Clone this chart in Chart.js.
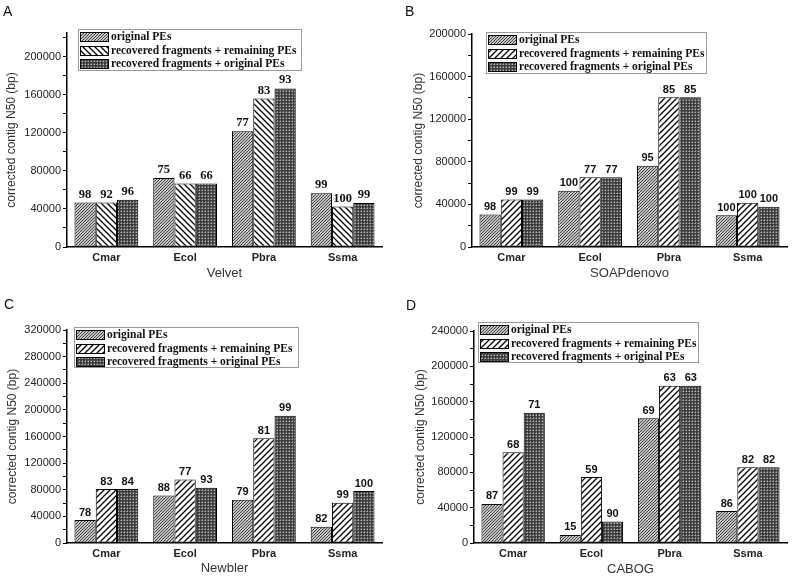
<!DOCTYPE html>
<html lang="en">
<head>
<meta charset="UTF-8">
<title>Corrected contig N50</title>
<script src="https://cdn.jsdelivr.net/npm/chart.js"></script>
<style>
  body { margin: 0; background: #fff; }
  #wrap { position: relative; width: 795px; height: 577px; }
  canvas { position: absolute; }
  .tag { position: absolute; font: 14px 'Liberation Sans', Arial, sans-serif; color: #111; }
</style>
</head>
<body>
<div id="wrap">
  <canvas id="chartA" width="397" height="288" style="left:0;top:0"></canvas>
  <canvas id="chartB" width="398" height="288" style="left:397px;top:0"></canvas>
  <canvas id="chartC" width="397" height="289" style="left:0;top:288px"></canvas>
  <canvas id="chartD" width="398" height="289" style="left:397px;top:288px"></canvas>
  <div class="tag" style="left:3px;top:3px">A</div>
  <div class="tag" style="left:405px;top:3px">B</div>
  <div class="tag" style="left:4px;top:296px">C</div>
  <div class="tag" style="left:406px;top:297px">D</div>
</div>
<script>
const categories = ['Cmar', 'Ecol', 'Pbra', 'Ssma'];
const seriesNames = ['original PEs', 'recovered fragments + remaining PEs', 'recovered fragments + original PEs'];

// A - Velvet
const velvetOriginal = [46700, 72600, 121800, 56500];
const velvetRemaining = [46700, 66700, 156100, 42500];
const velvetRecOrig = [49800, 66700, 166700, 46300];
const velvetPctOriginal = [98, 75, 77, 99];
const velvetPctRemaining = [92, 66, 83, 100];
const velvetPctRecOrig = [96, 66, 93, 99];

// B - SOAPdenovo
const soapOriginal = [30600, 52800, 76300, 29700];
const soapRemaining = [44700, 65600, 140600, 41600];
const soapRecOrig = [44700, 65600, 140600, 37800];
const soapPctOriginal = [98, 100, 95, 100];
const soapPctRemaining = [99, 77, 85, 100];
const soapPctRecOrig = [99, 77, 85, 100];

// C - Newbler
const newblerOriginal = [34500, 71500, 65000, 24500];
const newblerRemaining = [81000, 95500, 157500, 60500];
const newblerRecOrig = [81000, 83000, 191000, 78000];
const newblerPctOriginal = [78, 88, 79, 82];
const newblerPctRemaining = [83, 77, 81, 99];
const newblerPctRecOrig = [84, 93, 99, 100];

// D - CABOG
const cabogOriginal = [44200, 9100, 141100, 36200];
const cabogRemaining = [102600, 74700, 178100, 85700];
const cabogRecOrig = [147500, 24200, 178100, 85700];
const cabogPctOriginal = [87, 15, 69, 86];
const cabogPctRemaining = [68, 59, 63, 82];
const cabogPctRecOrig = [71, 90, 63, 82];

const sans = "'Liberation Sans', Arial, sans-serif";
const serif = "'Liberation Serif', 'Times New Roman', serif";

function makePattern(size, draw) {
    const c = document.createElement('canvas');
    c.width = size; c.height = size;
    const g = c.getContext('2d');
    draw(g, size);
    return g.createPattern(c, 'repeat');
}

function hatch(bg, fg, s, lw, forward) {
    return makePattern(s, (g) => {
        g.fillStyle = bg;
        g.fillRect(0, 0, s, s);
        g.strokeStyle = fg;
        g.lineWidth = lw;
        g.beginPath();
        if (forward) {
            g.moveTo(-1, s + 1); g.lineTo(s + 1, -1);
            g.moveTo(-1, 1); g.lineTo(1, -1);
            g.moveTo(s - 1, s + 1); g.lineTo(s + 1, s - 1);
        } else {
            g.moveTo(-1, -1); g.lineTo(s + 1, s + 1);
            g.moveTo(s - 1, -1); g.lineTo(s + 1, 1);
            g.moveTo(-1, s - 1); g.lineTo(1, s + 1);
        }
        g.stroke();
    });
}

const fillOriginal = hatch('#c4c4c4', '#444', 3, 1, true);
const fillRemainingBack = hatch('#fff', '#000', 6, 1.3, false);
const fillRemainingFwd = hatch('#fff', '#000', 6, 1.3, true);
// dark fine cross-hatch
const fillRecOrig = makePattern(3, (g) => {
    g.fillStyle = '#3e3e3e'; g.fillRect(0, 0, 3, 3);
    g.fillStyle = '#b4b4b4'; g.fillRect(1, 1, 1, 1);
    g.fillStyle = '#7a7a7a'; g.fillRect(0, 1, 1, 1); g.fillRect(1, 0, 1, 1);
});

// value labels above bars (percentages)
const barLabelPlugin = {
    id: 'barLabels',
    afterDatasetsDraw(chart, args, opts) {
        const ctx = chart.ctx;
        ctx.save();
        ctx.font = opts.font;
        ctx.fillStyle = '#111';
        ctx.textAlign = 'center';
        ctx.textBaseline = 'bottom';
        chart.data.datasets.forEach((ds, i) => {
            chart.getDatasetMeta(i).data.forEach((bar, j) => {
                ctx.fillText(ds.pct[j], bar.x, bar.y - 2);
            });
        });
        ctx.restore();
    }
};

// boxed legend drawn inside the plot, like the original figure
const boxLegendPlugin = {
    id: 'boxLegend',
    afterDraw(chart, args, opts) {
        const { ctx, chartArea } = chart;
        const x = Math.round(chartArea.left + opts.dx), y = Math.round(chartArea.top + opts.dy);
        ctx.save();
        ctx.fillStyle = '#fff';
        ctx.fillRect(x, y, opts.w, opts.h);
        ctx.strokeStyle = '#999';
        ctx.lineWidth = 1;
        ctx.strokeRect(x + 0.5, y + 0.5, opts.w, opts.h);
        chart.data.datasets.forEach((ds, i) => {
            const ry = y + 3 + Math.round(i * 13.5);
            ctx.fillStyle = ds.backgroundColor;
            ctx.fillRect(x + 2, ry, 29, 10);
            ctx.strokeStyle = '#000';
            ctx.strokeRect(x + 2.5, ry + 0.5, 28, 9);
            ctx.fillStyle = '#111';
            ctx.font = 'bold 11.5px ' + serif;
            ctx.textBaseline = 'middle';
            ctx.fillText(ds.label, x + 33, ry + 5.5);
        });
        ctx.restore();
    }
};

function drawPanel(id, cfg) {
    const fills = [fillOriginal, cfg.backHatch ? fillRemainingBack : fillRemainingFwd, fillRecOrig];
    return new Chart(document.getElementById(id), {
        type: 'bar',
        data: {
            labels: categories,
            datasets: cfg.series.map((vals, i) => ({
                label: seriesNames[i],
                data: vals,
                pct: cfg.pct[i],
                backgroundColor: fills[i],
                borderColor: '#000',
                borderWidth: 1,
                borderSkipped: false,
                categoryPercentage: 0.81,
                barPercentage: 1
            }))
        },
        options: {
            responsive: false,
            animation: false,
            layout: {
                padding: { top: cfg.area.top, right: cfg.width - cfg.area.right, left: 0, bottom: 0 }
            },
            scales: {
                x: {
                    grid: { display: false, drawTicks: false },
                    border: { color: '#000', width: 1.5 },
                    ticks: { padding: 4, color: '#222', font: { family: sans, size: 11, weight: 'bold' } },
                    title: {
                        display: true, text: cfg.title, color: '#333',
                        font: { family: sans, size: 13 },
                        padding: { top: 0, bottom: cfg.titlePad }
                    },
                    afterFit: (s) => { s.height = cfg.height - cfg.area.bottom; }
                },
                y: {
                    min: 0,
                    max: cfg.max,
                    grid: { drawOnChartArea: false, drawTicks: true, tickLength: 4, color: '#000' },
                    border: { color: '#000', width: 1.5 },
                    ticks: {
                        autoSkip: false,
                        padding: 2,
                        color: '#222',
                        font: { family: sans, size: 11 },
                        callback: (v) => (v % 40000 === 0 ? v : '')
                    },
                    // major ticks every 40000, minor every 20000
                    afterBuildTicks: (s) => {
                        const t = [];
                        for (let v = 0; v <= s.max; v += 20000) t.push({ value: v });
                        s.ticks = t;
                    },
                    title: {
                        display: true, text: 'corrected contig N50 (bp)', color: '#333',
                        font: { family: sans, size: 12 },
                        padding: { top: cfg.yTitlePad, bottom: 0 }
                    },
                    afterFit: (s) => { s.width = cfg.area.left; }
                }
            },
            plugins: {
                legend: { display: false },
                tooltip: { enabled: false },
                barLabels: { font: cfg.labelFont },
                boxLegend: cfg.legendBox
            }
        },
        plugins: [barLabelPlugin, boxLegendPlugin]
    });
}

drawPanel('chartA', {
    series: [velvetOriginal, velvetRemaining, velvetRecOrig],
    pct: [velvetPctOriginal, velvetPctRemaining, velvetPctRecOrig],
    title: 'Velvet', max: 225000, backHatch: true,
    width: 397, height: 288,
    area: { left: 67, top: 33, right: 382, bottom: 247 },
    titlePad: 7, yTitlePad: 4,
    labelFont: 'bold 12.5px ' + serif,
    legendBox: { dx: 11, dy: -4, w: 223, h: 41 }
});

drawPanel('chartB', {
    series: [soapOriginal, soapRemaining, soapRecOrig],
    pct: [soapPctOriginal, soapPctRemaining, soapPctRecOrig],
    title: 'SOAPdenovo', max: 200000, backHatch: false,
    width: 398, height: 288,
    area: { left: 75, top: 34, right: 390, bottom: 247 },
    titlePad: 7, yTitlePad: 14,
    labelFont: 'bold 11px ' + sans,
    legendBox: { dx: 14, dy: -2, w: 220, h: 41 }
});

drawPanel('chartC', {
    series: [newblerOriginal, newblerRemaining, newblerRecOrig],
    pct: [newblerPctOriginal, newblerPctRemaining, newblerPctRecOrig],
    title: 'Newbler', max: 320000, backHatch: false,
    width: 397, height: 289,
    area: { left: 67, top: 42, right: 382, bottom: 255 },
    titlePad: 1, yTitlePad: 5,
    labelFont: 'bold 11px ' + sans,
    legendBox: { dx: 7, dy: -3, w: 224, h: 40 }
});

drawPanel('chartD', {
    series: [cabogOriginal, cabogRemaining, cabogRecOrig],
    pct: [cabogPctOriginal, cabogPctRemaining, cabogPctRecOrig],
    title: 'CABOG', max: 240000, backHatch: false,
    width: 398, height: 289,
    area: { left: 77, top: 43, right: 390, bottom: 255 },
    titlePad: 0, yTitlePad: 16,
    labelFont: 'bold 11px ' + sans,
    legendBox: { dx: 4, dy: -9, w: 220, h: 40 }
});
</script>
</body>
</html>
